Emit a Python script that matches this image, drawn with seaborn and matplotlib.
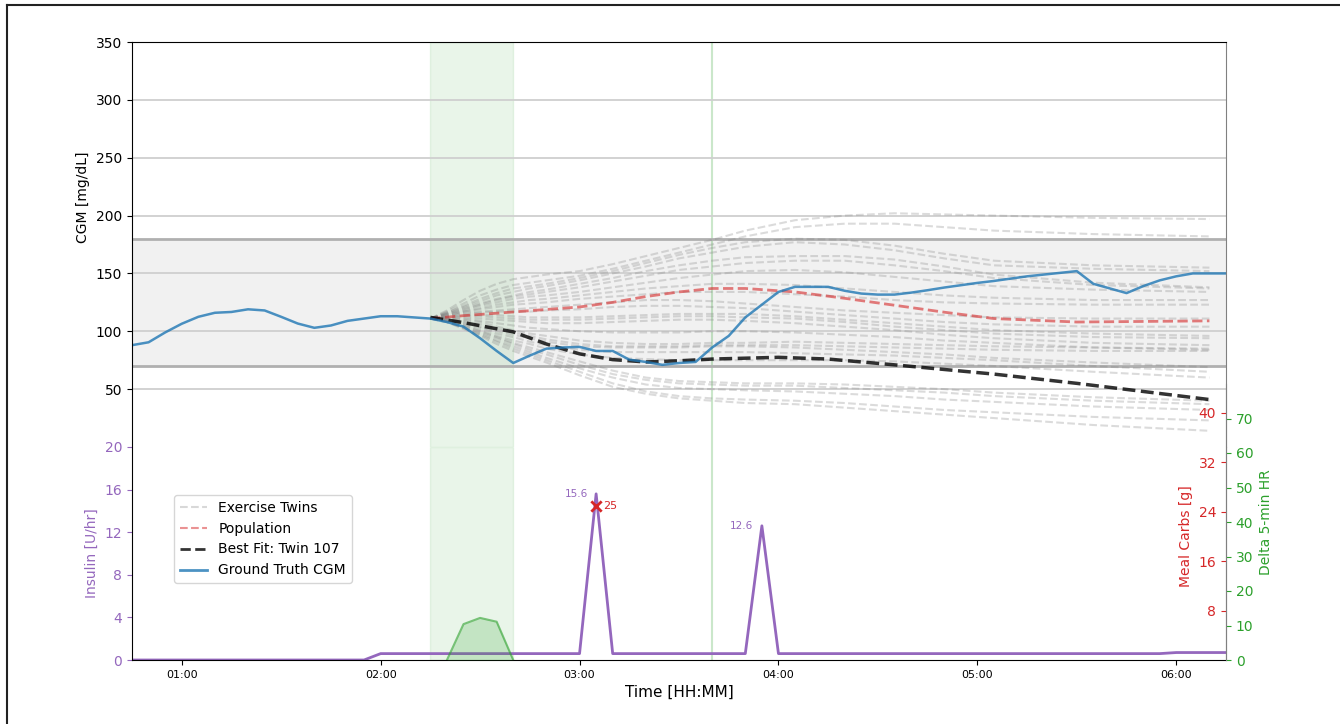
import numpy as np
import pandas as pd
import matplotlib
matplotlib.use("Agg")
import matplotlib.pyplot as plt
import matplotlib.dates as mdates
from matplotlib.lines import Line2D
import seaborn as sns

DAY = "2024-01-01 "

# ---------------- data ----------------
cgm_start = "00:45"
cgm_values = [88, 90.5, 99, 106.5, 112.5, 116, 116.7, 119, 118, 112.5,
              106.7, 103, 105, 109, 111, 113, 113, 112, 111, 108,
              104, 94, 83, 72.6, 79, 85, 86, 86.5, 83, 83,
              75.5, 73.5, 71, 72.6, 73.5, 86, 96, 112, 123, 134,
              138.4, 138.4, 138.4, 135, 132.6, 131.7, 131.7, 133.4, 135.5, 137.8,
              139.8, 141.8, 143.5, 145.5, 147.5, 149, 150.5, 152, 141, 137,
              133, 139, 144, 147.5, 150, 150, 150]

twin_times = ["02:15", "02:20", "02:25", "02:30", "02:35", "02:40", "02:45",
              "02:50", "03:00", "03:10", "03:20", "03:30", "03:40", "03:50",
              "04:05", "04:20", "04:35", "04:50", "05:05", "05:35", "06:10"]
twin_values = [
    [111, 118, 127, 135, 141, 145, 147, 149, 152, 158, 165, 172, 179, 187, 196, 200, 202, 201, 200, 198, 197],
    [111, 117, 124, 131, 136, 140, 142, 144, 148, 154, 161, 168, 175, 182, 190, 193, 193, 190, 187, 184, 182],
    [111, 116, 122, 128, 133, 137, 139, 141, 146, 152, 159, 166, 172, 177, 180, 179, 174, 167, 161, 157, 155],
    [111, 116, 121, 126, 131, 134, 137, 139, 144, 150, 156, 163, 168, 173, 177, 175, 170, 163, 157, 154, 152],
    [111, 115, 120, 124, 128, 131, 134, 136, 141, 146, 152, 157, 161, 164, 165, 165, 162, 156, 149, 142, 138],
    [111, 115, 119, 123, 127, 130, 132, 134, 138, 143, 148, 153, 156, 159, 161, 161, 157, 152, 146, 140, 137],
    [111, 115, 118, 122, 125, 128, 130, 131, 134, 138, 142, 146, 149, 152, 153, 151, 147, 143, 139, 136, 134],
    [111, 114, 117, 120, 123, 125, 127, 128, 131, 134, 137, 139, 141, 141, 140, 137, 134, 131, 129, 127, 127],
    [111, 114, 117, 119, 121, 123, 124, 125, 128, 130, 132, 134, 134, 134, 132, 130, 127, 125, 124, 123, 123],
    [111, 113, 116, 117, 118, 119, 120, 121, 123, 125, 127, 127, 126, 124, 121, 118, 116, 114, 112, 111, 111],
    [111, 113, 115, 116, 117, 117, 117, 118, 119, 121, 122, 122, 121, 120, 117, 114, 111, 108, 106, 104, 104],
    [111, 112, 114, 114, 114, 113, 112, 112, 112, 113, 114, 115, 115, 115, 113, 110, 107, 104, 101, 98, 96],
    [111, 112, 113, 113, 112, 111, 110, 110, 110, 111, 112, 113, 113, 112, 111, 108, 104, 101, 98, 95, 94],
    [111, 112, 112, 111, 110, 109, 108, 107, 107, 108, 109, 110, 110, 109, 107, 104, 101, 97, 94, 90, 88],
    [111, 111, 111, 109, 107, 105, 103, 102, 100, 99, 99, 99, 100, 100, 99, 97, 95, 92, 90, 86, 84],
    [111, 111, 110, 108, 104, 101, 98, 96, 92, 90, 89, 89, 90, 90, 91, 90, 89, 88, 87, 86, 85],
    [111, 110, 109, 106, 102, 99, 96, 93, 89, 87, 87, 87, 88, 88, 88, 87, 86, 85, 84, 83, 83],
    [111, 110, 108, 104, 100, 97, 94, 91, 87, 86, 86, 86, 87, 87, 86, 84, 82, 80, 77, 73, 69],
    [111, 110, 107, 103, 98, 95, 91, 88, 84, 82, 82, 82, 82, 82, 81, 80, 79, 77, 75, 70, 65],
    [111, 109, 106, 101, 96, 92, 89, 85, 80, 77, 76, 75, 75, 75, 75, 75, 74, 72, 70, 65, 60],
    [111, 109, 105, 100, 95, 90, 86, 82, 74, 66, 60, 57, 56, 55, 55, 54, 52, 50, 47, 43, 40],
    [111, 109, 104, 99, 94, 89, 84, 80, 71, 63, 58, 55, 54, 53, 53, 51, 49, 47, 44, 40, 37],
    [111, 108, 103, 98, 92, 87, 82, 77, 68, 60, 54, 51, 50, 49, 48, 46, 44, 41, 39, 35, 32],
    [111, 108, 103, 97, 91, 85, 80, 75, 65, 55, 48, 44, 42, 41, 40, 38, 35, 32, 30, 26, 23],
    [111, 108, 102, 96, 89, 83, 78, 73, 62, 52, 46, 42, 40, 38, 37, 34, 31, 28, 25, 19, 14],
]

pop_times = ["02:15", "02:25", "02:40", "03:00", "03:10", "03:20", "03:30",
             "03:40", "03:50", "04:05", "04:20", "04:35", "04:50", "05:05",
             "05:30", "06:10"]
pop_values = [111, 113.5, 116.7, 121, 125, 130, 134, 137, 137, 134, 128.5,
              122.5, 116.5, 111, 108, 109]

best_times = ["02:15", "02:25", "02:40", "02:50", "03:00", "03:10", "03:20",
              "03:30", "03:40", "04:00", "04:15", "04:35", "05:05", "05:30",
              "06:10"]
best_values = [112, 107.5, 99.5, 89, 80.5, 75.5, 73.5, 74.5, 76, 77.5, 76,
               71, 63, 55, 41]

insulin_times = ["00:45", "01:55", "02:00", "03:00", "03:05", "03:10", "03:50",
                 "03:55", "04:00", "05:55", "06:00", "06:15"]
insulin_values = [0, 0, 0.6, 0.6, 15.6, 0.6, 0.6, 12.6, 0.6, 0.6, 0.7, 0.7]
insulin_peaks = [("03:05", 15.6), ("03:55", 12.6)]

meal_time = "03:05"
meal_carbs = 25

hr_times = ["02:20", "02:25", "02:30", "02:35", "02:40"]
hr_values = [0, 10.4, 12.2, 11.1, 0]

exercise_span = ("02:15", "02:40")
marker_time = "03:40"
x_range = ("00:45", "06:15")

cgm_ticks = [50, 100, 150, 200, 250, 300, 350]
insulin_ticks = [0, 4, 8, 12, 16, 20]
carb_ticks = [8, 16, 24, 32, 40]
hr_ticks = [0, 10, 20, 30, 40, 50, 60, 70]


def T(s):
    return pd.Timestamp(DAY + s)


cgm_df = pd.DataFrame({
    "time": pd.date_range(T(cgm_start), periods=len(cgm_values), freq="5min"),
    "cgm": cgm_values})
twin_df = pd.DataFrame([
    {"twin": i, "time": T(t), "cgm": v}
    for i, vals in enumerate(twin_values) for t, v in zip(twin_times, vals)])
pop_df = pd.DataFrame({"time": [T(t) for t in pop_times], "cgm": pop_values})
best_df = pd.DataFrame({"time": [T(t) for t in best_times], "cgm": best_values})
ins_df = pd.DataFrame({"time": [T(t) for t in insulin_times],
                       "ins": insulin_values})
hr_df = pd.DataFrame({"time": [T(t) for t in hr_times], "hr": hr_values})

# ---------------- figure ----------------
W, H = 1340, 724
fig = plt.figure(figsize=(W / 100, H / 100), dpi=100)


def rect(l, t, r, b):
    return [l / W, 1 - b / H, (r - l) / W, (b - t) / H]


ax = fig.add_axes(rect(132, 42, 1226, 447))
axi = fig.add_axes(rect(132, 447, 1226, 660), sharex=ax)
axc = fig.add_axes(rect(132, 413, 1226, 660), sharex=ax)
axh = fig.add_axes(rect(132, 384, 1226, 660), sharex=ax)

PURPLE = "#9467bd"
RED = "#d62728"
GREEN = "#2ca02c"
BLUE = "#1f77b4"
SPINE_GRAY = "#808080"

# --- CGM panel ---
ax.axhspan(70, 180, color="lightgray", alpha=0.3, lw=0, zorder=0.5)
for yv in cgm_ticks:
    ax.axhline(yv, color="#cfcfcf", lw=1.3, zorder=0.8)
ax.axhline(70, color="#b0b0b0", lw=2, zorder=0.9)
ax.axhline(180, color="#b0b0b0", lw=2, zorder=0.9)
for a in (ax, axi):
    a.axvspan(T(exercise_span[0]), T(exercise_span[1]), color=GREEN,
              alpha=0.1, zorder=0.6)
    a.axvline(T(marker_time), color=GREEN, alpha=0.25, lw=1.5, zorder=0.7)

sns.lineplot(data=twin_df, x="time", y="cgm", units="twin", estimator=None,
             ax=ax, color="gray", alpha=0.28, lw=1.5, linestyle="--",
             legend=False)
sns.lineplot(data=pop_df, x="time", y="cgm", ax=ax, color=RED, alpha=0.6,
             lw=2, linestyle="--", legend=False)
sns.lineplot(data=best_df, x="time", y="cgm", ax=ax, color="black",
             alpha=0.8, lw=2.5, linestyle="--", legend=False)
sns.lineplot(data=cgm_df, x="time", y="cgm", ax=ax, color=BLUE, alpha=0.8,
             lw=1.8, legend=False)

ax.set_ylim(0, 350)
ax.set_yticks(cgm_ticks)
ax.tick_params(axis="y", labelsize=10)
ax.tick_params(axis="x", bottom=False, labelbottom=False)
ax.set_xlabel("")
ax.set_ylabel("CGM [mg/dL]", fontsize=10)
ax.yaxis.set_label_coords(-0.038, 0.616)
ax.spines["bottom"].set_visible(False)
ax.spines["right"].set_color(SPINE_GRAY)
ax.set_xlim(T(x_range[0]), T(x_range[1]))

# --- insulin panel ---
sns.lineplot(data=ins_df, x="time", y="ins", ax=axi, color=PURPLE, lw=2,
             legend=False)
for t, v in insulin_peaks:
    axi.annotate(f"{v}", xy=(T(t), v), xytext=(-6, 0),
                 textcoords="offset points", ha="right", va="center",
                 color=PURPLE, fontsize=7.5)
axi.set_ylim(0, 20)
axi.set_yticks(insulin_ticks)
axi.tick_params(axis="y", colors=PURPLE, labelsize=10)
axi.set_ylabel("Insulin [U/hr]", color=PURPLE, fontsize=10)
axi.set_xlabel("Time [HH:MM]", fontsize=11)
axi.xaxis.set_major_locator(mdates.HourLocator())
axi.xaxis.set_major_formatter(mdates.DateFormatter("%H:%M"))
axi.tick_params(axis="x", labelsize=8)
axi.spines["top"].set_visible(False)
axi.spines["right"].set_color(SPINE_GRAY)

# --- meal carbs axis ---
axc.patch.set_visible(False)
for s in ("top", "bottom", "right", "left"):
    axc.spines[s].set_visible(False)
axc.spines["left"].set_position(("axes", 1.0))
sns.scatterplot(x=[T(meal_time)], y=[meal_carbs], ax=axc, marker="x", s=55,
                color=RED, linewidth=2, zorder=5, legend=False)
axc.annotate(f"{meal_carbs}", xy=(T(meal_time), meal_carbs), xytext=(5, 0),
             textcoords="offset points", ha="left", va="center", color=RED,
             fontsize=8)
axc.set_ylim(0, 40)
axc.set_yticks(carb_ticks)
axc.tick_params(axis="y", colors=RED, labelsize=10, left=True,
                labelleft=True, right=False, labelright=False)
axc.tick_params(axis="x", bottom=False, labelbottom=False)
axc.set_xlabel("")
axc.set_ylabel("Meal Carbs [g]", color=RED, fontsize=10)

# --- heart-rate axis ---
axh.patch.set_visible(False)
for s in ("top", "bottom", "left"):
    axh.spines[s].set_visible(False)
axh.spines["right"].set_color(SPINE_GRAY)
axh.fill_between(hr_df["time"], 0, hr_df["hr"], color=GREEN, alpha=0.2, lw=0)
sns.lineplot(data=hr_df, x="time", y="hr", ax=axh, color=GREEN, alpha=0.6,
             lw=1.5, legend=False)
axh.set_ylim(0, 80)
axh.set_yticks(hr_ticks)
axh.yaxis.tick_right()
axh.yaxis.set_label_position("right")
axh.tick_params(axis="y", colors=GREEN, labelsize=10)
axh.tick_params(axis="x", bottom=False, labelbottom=False)
axh.set_xlabel("")
axh.set_ylabel("Delta 5-min HR", color=GREEN, fontsize=10)

axi.set_xlim(T(x_range[0]), T(x_range[1]))

# --- legend ---
handles = [
    Line2D([], [], color="gray", alpha=0.3, lw=1.5, ls="--"),
    Line2D([], [], color=RED, alpha=0.5, lw=1.5, ls="--"),
    Line2D([], [], color="black", alpha=0.8, lw=2, ls="--"),
    Line2D([], [], color=BLUE, alpha=0.8, lw=2),
]
labels = ["Exercise Twins", "Population", "Best Fit: Twin 107",
          "Ground Truth CGM"]
axh.legend(handles, labels, loc="upper left",
           bbox_to_anchor=(174 / W, 1 - 495 / H), bbox_transform=fig.transFigure,
           borderaxespad=0, fontsize=10, framealpha=0.8)

# --- outer frame lines ---
fig.add_artist(Line2D([7 / W, 7 / W], [0, 1 - 5 / H], transform=fig.transFigure,
                      color="#222222", lw=1.5))
fig.add_artist(Line2D([7 / W, 1], [1 - 5 / H, 1 - 5 / H],
                      transform=fig.transFigure, color="#222222", lw=1.5))

fig.savefig("out.png", dpi=100)
